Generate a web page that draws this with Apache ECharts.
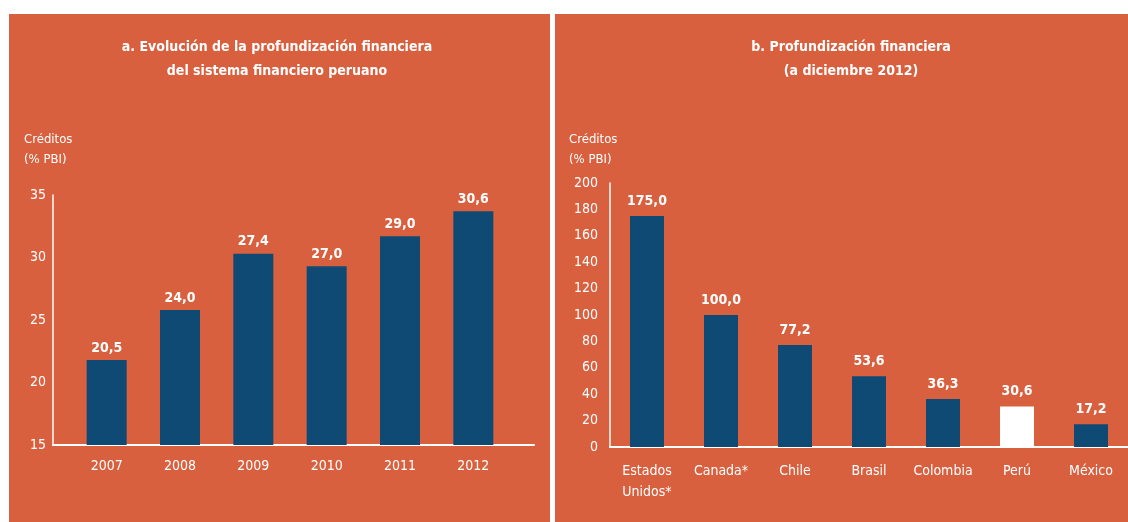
<!DOCTYPE html>
<html>
<head>
<meta charset="utf-8">
<script src="https://cdn.jsdelivr.net/npm/echarts@6/dist/echarts.min.js"></script>
<style>
html, body { margin: 0; padding: 0; background: #fff; }
#wrap { position: relative; width: 1128px; height: 522px; overflow: hidden; }
.panel { position: absolute; top: 14px; bottom: 0; background: #d9603f; }
#chart { position: absolute; left: 0; top: 0; width: 1128px; height: 522px; }
</style>
</head>
<body>
<div id="wrap">
  <div class="panel" style="left:9px;width:541px"></div>
  <div class="panel" style="left:555px;right:0"></div>
  <div id="chart"></div>
</div>
<script>
// panel a: bar heights as drawn against the axis, and the values printed on top
const years = ['2007', '2008', '2009', '2010', '2011', '2012']
const heightsA = [21.8, 25.8, 30.3, 29.3, 31.7, 33.7]
const labelsA = ['20,5', '24,0', '27,4', '27,0', '29,0', '30,6']

// panel b
const countries = ['Estados\nUnidos*', 'Canada*', 'Chile', 'Brasil', 'Colombia', 'Perú', 'México']
const valuesB = [175.0, 100.0, 77.2, 53.6, 36.3, 30.6, 17.2]
const highlightB = 'Perú'

const FONT = "'Liberation Sans Narrow', 'DejaVu Sans Condensed', sans-serif"
const BLUE = '#0f4a75'
const WHITE = '#ffffff'

let myChart = echarts.init(document.getElementById('chart'))

const titleStyle = { color: WHITE, fontFamily: FONT, fontSize: 14, fontWeight: 'bold', lineHeight: 24 }
const unitStyle = { color: WHITE, fontFamily: FONT, fontSize: 13, fontWeight: 'normal', lineHeight: 20 }
const valueLabel = { show: true, position: 'top', color: WHITE, fontFamily: FONT, fontSize: 14, fontWeight: 'bold' }

myChart.setOption({
  animation: false,
  textStyle: { fontFamily: FONT },
  title: [
    { text: 'a. Evolución de la profundización financiera\ndel sistema financiero peruano', left: 272, top: 30, textAlign: 'center', textStyle: titleStyle },
    { text: 'b. Profundización financiera\n(a diciembre 2012)', left: 846, top: 30, textAlign: 'center', textStyle: titleStyle },
    { text: 'Créditos\n(% PBI)', left: 19, top: 125, textStyle: unitStyle },
    { text: 'Créditos\n(% PBI)', left: 564, top: 125, textStyle: unitStyle }
  ],
  grid: [
    { left: 53, right: 594, top: 195, bottom: 77 },
    { left: 70, width: 440, top: 195, bottom: 77 },
    { left: 610, right: 0, top: 183, bottom: 75 }
  ],
  xAxis: [
    {
      gridIndex: 0, type: 'value', min: 0, max: 1,
      axisLine: { show: true, onZero: false, lineStyle: { color: WHITE, width: 2 } },
      axisTick: { show: false }, axisLabel: { show: false }, splitLine: { show: false }
    },
    {
      gridIndex: 1, type: 'category', data: years,
      axisLine: { show: false }, axisTick: { show: false },
      axisLabel: { color: WHITE, fontFamily: FONT, fontSize: 14, margin: 11, lineHeight: 21 }
    },
    {
      gridIndex: 2, type: 'category', data: countries,
      axisLine: { show: true, onZero: false, lineStyle: { color: WHITE, width: 2 } },
      axisTick: { show: false },
      axisLabel: { color: WHITE, fontFamily: FONT, fontSize: 14, margin: 14, lineHeight: 21, interval: 0 }
    }
  ],
  yAxis: [
    {
      gridIndex: 0, type: 'value', min: 15, max: 35, interval: 5,
      axisLine: { show: true, onZero: false, lineStyle: { color: WHITE, width: 1.5 } },
      axisTick: { show: false }, splitLine: { show: false },
      axisLabel: { color: WHITE, fontFamily: FONT, fontSize: 14, margin: 7 }
    },
    { gridIndex: 1, type: 'value', min: 15, max: 35, show: false },
    {
      gridIndex: 2, type: 'value', min: 0, max: 200, interval: 20,
      axisLine: { show: true, onZero: false, lineStyle: { color: WHITE, width: 1.5 } },
      axisTick: { show: false }, splitLine: { show: false },
      axisLabel: { color: WHITE, fontFamily: FONT, fontSize: 14, margin: 12 }
    }
  ],
  series: [
    {
      type: 'bar', xAxisIndex: 1, yAxisIndex: 1,
      data: heightsA, barWidth: 40,
      itemStyle: { color: BLUE },
      label: Object.assign({}, valueLabel, { distance: 5, formatter: p => labelsA[p.dataIndex] })
    },
    {
      type: 'bar', xAxisIndex: 2, yAxisIndex: 2,
      data: valuesB.map((v, i) => ({ value: v, itemStyle: { color: countries[i] === highlightB ? WHITE : BLUE } })),
      barWidth: 34,
      label: Object.assign({}, valueLabel, { distance: 8, formatter: p => p.value.toFixed(1).replace('.', ',') })
    }
  ]
})
</script>
</body>
</html>
